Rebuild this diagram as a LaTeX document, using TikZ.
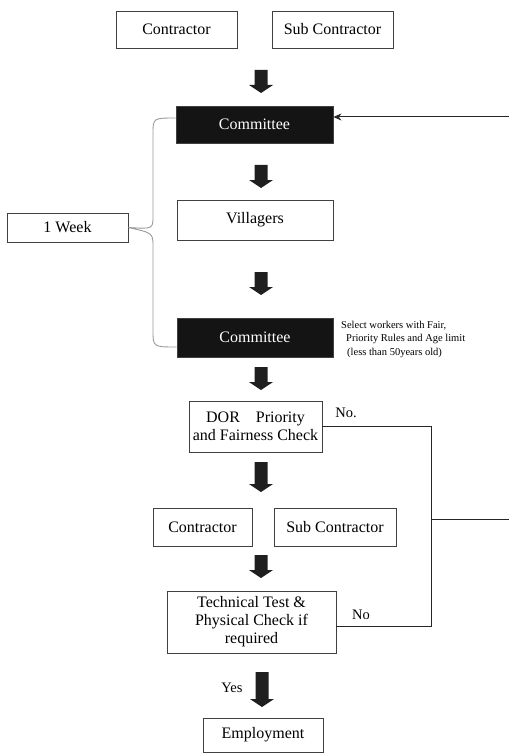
\documentclass[tikz,border=0pt]{standalone}
\usepackage{fontspec}
\setmainfont{Liberation Serif}
\usetikzlibrary{arrows.meta}
\newcommand\blockarrow[3]{%
  \fill[black!88] (#1-6.5,#2) -- (#1+6.5,#2) -- (#1+6.5,#3-8) -- (#1+12,#3-8)
    -- (#1,#3) -- (#1-12,#3-8) -- (#1-6.5,#3-8) -- cycle;}
\begin{document}
\begin{tikzpicture}[x=1pt,y=-1pt,
  box/.style={draw=black!75,line width=0.9pt,fill=white,inner sep=1pt,
    font=\fontsize{16}{18}\selectfont,align=center},
  darkbox/.style={box,fill=black!92,text=white},
  brace/.style={draw=black!40,line width=0.9pt},
  fb/.style={draw=black!85,line width=1pt},
  lbl/.style={font=\fontsize{14.5}{16}\selectfont,inner sep=0pt}]
\useasboundingbox (0,0) rectangle (509,754);
\node[box,minimum width=121pt,minimum height=37pt] (con1) at (176.5,29.5) {Contractor};
\node[box,minimum width=121pt,minimum height=37pt] (sub1) at (332.5,29.5) {Sub Contractor};
\node[darkbox,minimum width=157pt,minimum height=37pt] (c1) at (254.5,124.5) {Committee};
\node[box,minimum width=156pt,minimum height=40pt] (vil) at (255,220) {Villagers};
\node[darkbox,minimum width=156pt,minimum height=39pt] (c2) at (255,337.5) {Committee};
\node[box,minimum width=121pt,minimum height=29pt] (wk) at (67.5,227.5) {1 Week};
\node[box,minimum width=133pt,minimum height=51pt] (dor) at (255.5,426.5) {DOR\quad Priority\\and Fairness Check};
\node[box,minimum width=99pt,minimum height=38pt] (con2) at (202.5,527) {Contractor};
\node[box,minimum width=122pt,minimum height=38pt] (sub2) at (335,527) {Sub Contractor};
\node[box,minimum width=169pt,minimum height=62pt] (tech) at (251.5,622) {Technical Test \&\\Physical Check if\\required};
\node[box,minimum width=120pt,minimum height=34pt] (emp) at (263,735) {Employment};
% block arrows
\blockarrow{261}{70}{93}
\blockarrow{261}{165}{188}
\blockarrow{261}{272}{295}
\blockarrow{261}{367}{390}
\blockarrow{261}{462}{492}
\blockarrow{261}{555}{578}
\blockarrow{262}{672}{707}
% note
\node[anchor=west,align=left,font=\fontsize{10.5}{13.5}\selectfont,inner sep=0pt] (note) at (341,339)
  {Select workers with Fair,\\\hspace*{5pt}Priority Rules and Age limit\\\hspace*{6pt}(less than 50years old)};
% labels
\node[lbl] (no1) at (346,413) {No.};
\node[lbl] (no2) at (361,615) {No};
\node[lbl] (yes) at (232,688) {Yes};
% brace
\draw[brace] ([yshift=6.5pt]c1.west) .. controls (153,118) .. (153,134) -- (153,216)
  .. controls (153,229) .. (wk.east)
  .. controls (153,233) .. (153,247) -- (153,330)
  .. controls (153,347) .. ([yshift=-9.5pt]c2.west);
% right input
\coordinate (rin) at (509,117);
\draw[fb,-{Stealth[length=8pt,width=7pt]}] (rin) -- (rin -| c1.east);
% feedback lines
\coordinate (fbj) at (431,519);
\coordinate (fbout) at (509,519);
\draw[fb] (dor.east) -| (fbj) -- (fbout);
\draw[fb] ([yshift=-4pt]tech.east) -| (fbj);
\end{tikzpicture}
\end{document}
